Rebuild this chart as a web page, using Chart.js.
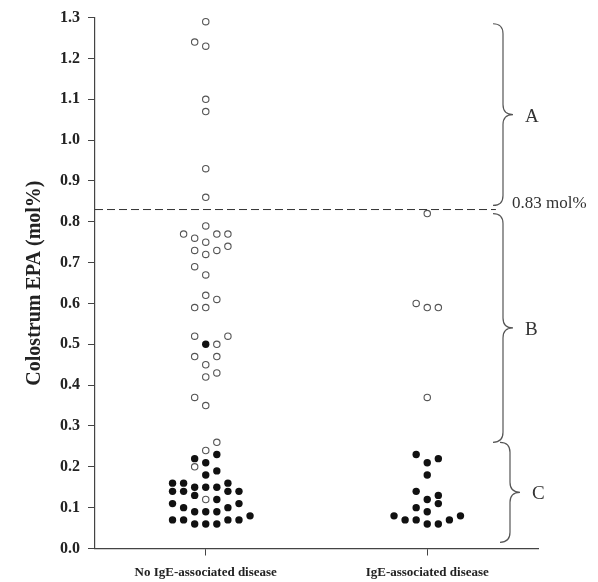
<!DOCTYPE html>
<html>
<head>
<meta charset="utf-8">
<script src="https://cdn.jsdelivr.net/npm/chart.js@4.4.1/dist/chart.umd.min.js"></script>
<style>
  html, body { margin: 0; padding: 0; background: #fff; }
  #wrap { width: 598px; height: 582px; }
</style>
</head>
<body>
<div id="wrap"><canvas id="myChart"></canvas></div>
<script>
// groups on the x axis
var categories = ['No IgE-associated disease', 'IgE-associated disease'];

// beeswarm: value plus column index (left/right of the group centre)
var noIgeOpenY   = [1.29, 1.24, 1.23, 1.10, 1.07, 0.93, 0.86, 0.79, 0.77, 0.76, 0.75, 0.77, 0.77, 0.73, 0.72, 0.73, 0.74, 0.69, 0.67, 0.62, 0.61, 0.59, 0.59, 0.52, 0.52, 0.50, 0.47, 0.47, 0.45, 0.42, 0.43, 0.37, 0.35, 0.26, 0.24, 0.20, 0.12];
var noIgeOpenCol = [0, -1, 0, 0, 0, 0, 0, 0, -2, -1, 0, 1, 2, -1, 0, 1, 2, -1, 0, 0, 1, -1, 0, -1, 2, 1, -1, 1, 0, 0, 1, -1, 0, 1, 0, -1, 0];

var noIgeFilledY   = [0.50, 0.22, 0.23, 0.21, 0.18, 0.19, 0.16, 0.16, 0.16, 0.14, 0.14, 0.14, 0.14, 0.15, 0.15, 0.15, 0.13, 0.12, 0.11, 0.11, 0.10, 0.10, 0.09, 0.09, 0.09, 0.07, 0.07, 0.07, 0.07, 0.06, 0.06, 0.06, 0.08];
var noIgeFilledCol = [0, -1, 1, 0, 0, 1, -3, -2, 2, -3, -2, 2, 3, -1, 0, 1, -1, 1, -3, 3, -2, 2, -1, 0, 1, -3, -2, 2, 3, -1, 0, 1, 4];

var igeOpenY   = [0.82, 0.60, 0.59, 0.59, 0.37];
var igeOpenCol = [0, -1, 0, 1, 0];

var igeFilledY   = [0.23, 0.21, 0.22, 0.18, 0.14, 0.13, 0.12, 0.11, 0.10, 0.09, 0.08, 0.08, 0.07, 0.07, 0.07, 0.06, 0.06];
var igeFilledCol = [-1, 0, 1, 0, -1, 1, 0, 1, -1, 0, -3, 3, -2, -1, 2, 0, 1];

var yTicks = [0.0, 0.1, 0.2, 0.3, 0.4, 0.5, 0.6, 0.7, 0.8, 0.9, 1.0, 1.1, 1.2, 1.3];

var cutoff = 0.83;
var cutoffLabel = '0.83 mol%';
var braceLabels = ['A', 'B', 'C'];
var braceFrom   = [0.84, 0.26, 0.015];
var braceTo     = [1.285, 0.82, 0.26];

var colStep = 0.05;

function _map(arr, fn) { var out = []; for (var i = 0; i < arr.length; i++) out.push(fn(arr[i], i)); return out; }
function points(group, ys, cols) {
    return _map(ys, function (y, i) { return { x: group + cols[i] * colStep, y: y }; });
}

var openData = points(1, noIgeOpenY, noIgeOpenCol).concat(points(2, igeOpenY, igeOpenCol));
var filledData = points(1, noIgeFilledY, noIgeFilledCol).concat(points(2, igeFilledY, igeFilledCol));

// braces and their letters, drawn after the chart
var bracePlugin = {
    id: 'braces',
    afterDraw: function (chart) {
        var ctx = chart.ctx, y = chart.scales.y, right = chart.chartArea.right;
        ctx.save();
        ctx.strokeStyle = '#555';
        ctx.lineWidth = 1.2;
        ctx.fillStyle = '#333';
        ctx.textBaseline = 'middle';
        for (var i = 0; i < braceLabels.length; i++) {
            var x = i < 2 ? right - 35 : right - 28;
            var y1 = y.getPixelForValue(braceTo[i]);
            var y2 = y.getPixelForValue(braceFrom[i]);
            var ym = (y1 + y2) / 2, r = 10, tip = 10;
            ctx.beginPath();
            ctx.moveTo(x - r, y1);
            ctx.quadraticCurveTo(x, y1, x, y1 + r);
            ctx.lineTo(x, ym - r);
            ctx.quadraticCurveTo(x, ym, x + tip, ym);
            ctx.quadraticCurveTo(x, ym, x, ym + r);
            ctx.lineTo(x, y2 - r);
            ctx.quadraticCurveTo(x, y2, x - r, y2);
            ctx.stroke();
            ctx.font = '19px "Liberation Serif"';
            ctx.textAlign = 'left';
            ctx.fillText(braceLabels[i], x + tip + 12, ym + 2);
        }
        ctx.font = '17px "Liberation Serif"';
        ctx.fillText(cutoffLabel, right - 26, y.getPixelForValue(cutoff) - 6);
        ctx.restore();
    }
};

var ctx = document.getElementById('myChart');
var myChart = new Chart(ctx, {
    type: 'scatter',
    data: {
        datasets: [{
            label: 'cutoff',
            type: 'line',
            data: [{ x: 0.5, y: cutoff }, { x: 2.31, y: cutoff }],
            borderColor: '#333',
            borderWidth: 1,
            borderDash: [8, 4],
            pointRadius: 0,
            fill: false
        }, {
            label: 'open',
            data: openData,
            pointRadius: 3.2,
            pointBorderWidth: 1.1,
            borderColor: '#555',
            backgroundColor: '#fff'
        }, {
            label: 'filled',
            data: filledData,
            pointRadius: 3.7,
            pointBorderWidth: 0,
            borderColor: '#111',
            backgroundColor: '#111'
        }]
    },
    options: {
        responsive: true,
        maintainAspectRatio: false,
        animation: false,
        layout: { padding: { top: 15, right: 60, bottom: 0, left: 0 } },
        plugins: { legend: { display: false }, tooltip: { enabled: false } },
        scales: {
            x: {
                type: 'linear',
                min: 0.5,
                max: 2.5,
                afterBuildTicks: function (scale) { scale.ticks = [{ value: 1 }, { value: 2 }]; },
                afterFit: function (scale) { scale.height = 33.5; },
                grid: { drawOnChartArea: false, tickLength: 7, color: '#444' },
                border: { color: '#444', width: 1.2 },
                ticks: {
                    padding: 9,
                    color: '#222',
                    font: { family: 'Liberation Serif', size: 13, weight: 'bold' },
                    callback: function (v) { return categories[v - 1]; }
                }
            },
            y: {
                min: 0,
                max: 1.3,
                afterBuildTicks: function (scale) { scale.ticks = _map(yTicks, function (v) { return { value: v }; }); },
                afterFit: function (scale) { scale.width = 95; },
                grid: { drawOnChartArea: false, tickLength: 7, color: '#444' },
                border: { color: '#444', width: 1.2 },
                ticks: {
                    padding: 8,
                    color: '#222',
                    font: { family: 'Liberation Serif', size: 16, weight: 'bold' },
                    callback: function (v) { return v.toFixed(1); }
                },
                title: {
                    display: true,
                    text: 'Colostrum EPA (mol%)',
                    color: '#222',
                    padding: { top: 23 },
                    font: { family: 'Liberation Serif', size: 20, weight: 'bold' }
                }
            }
        }
    },
    plugins: [bracePlugin]
});
</script>
</body>
</html>
